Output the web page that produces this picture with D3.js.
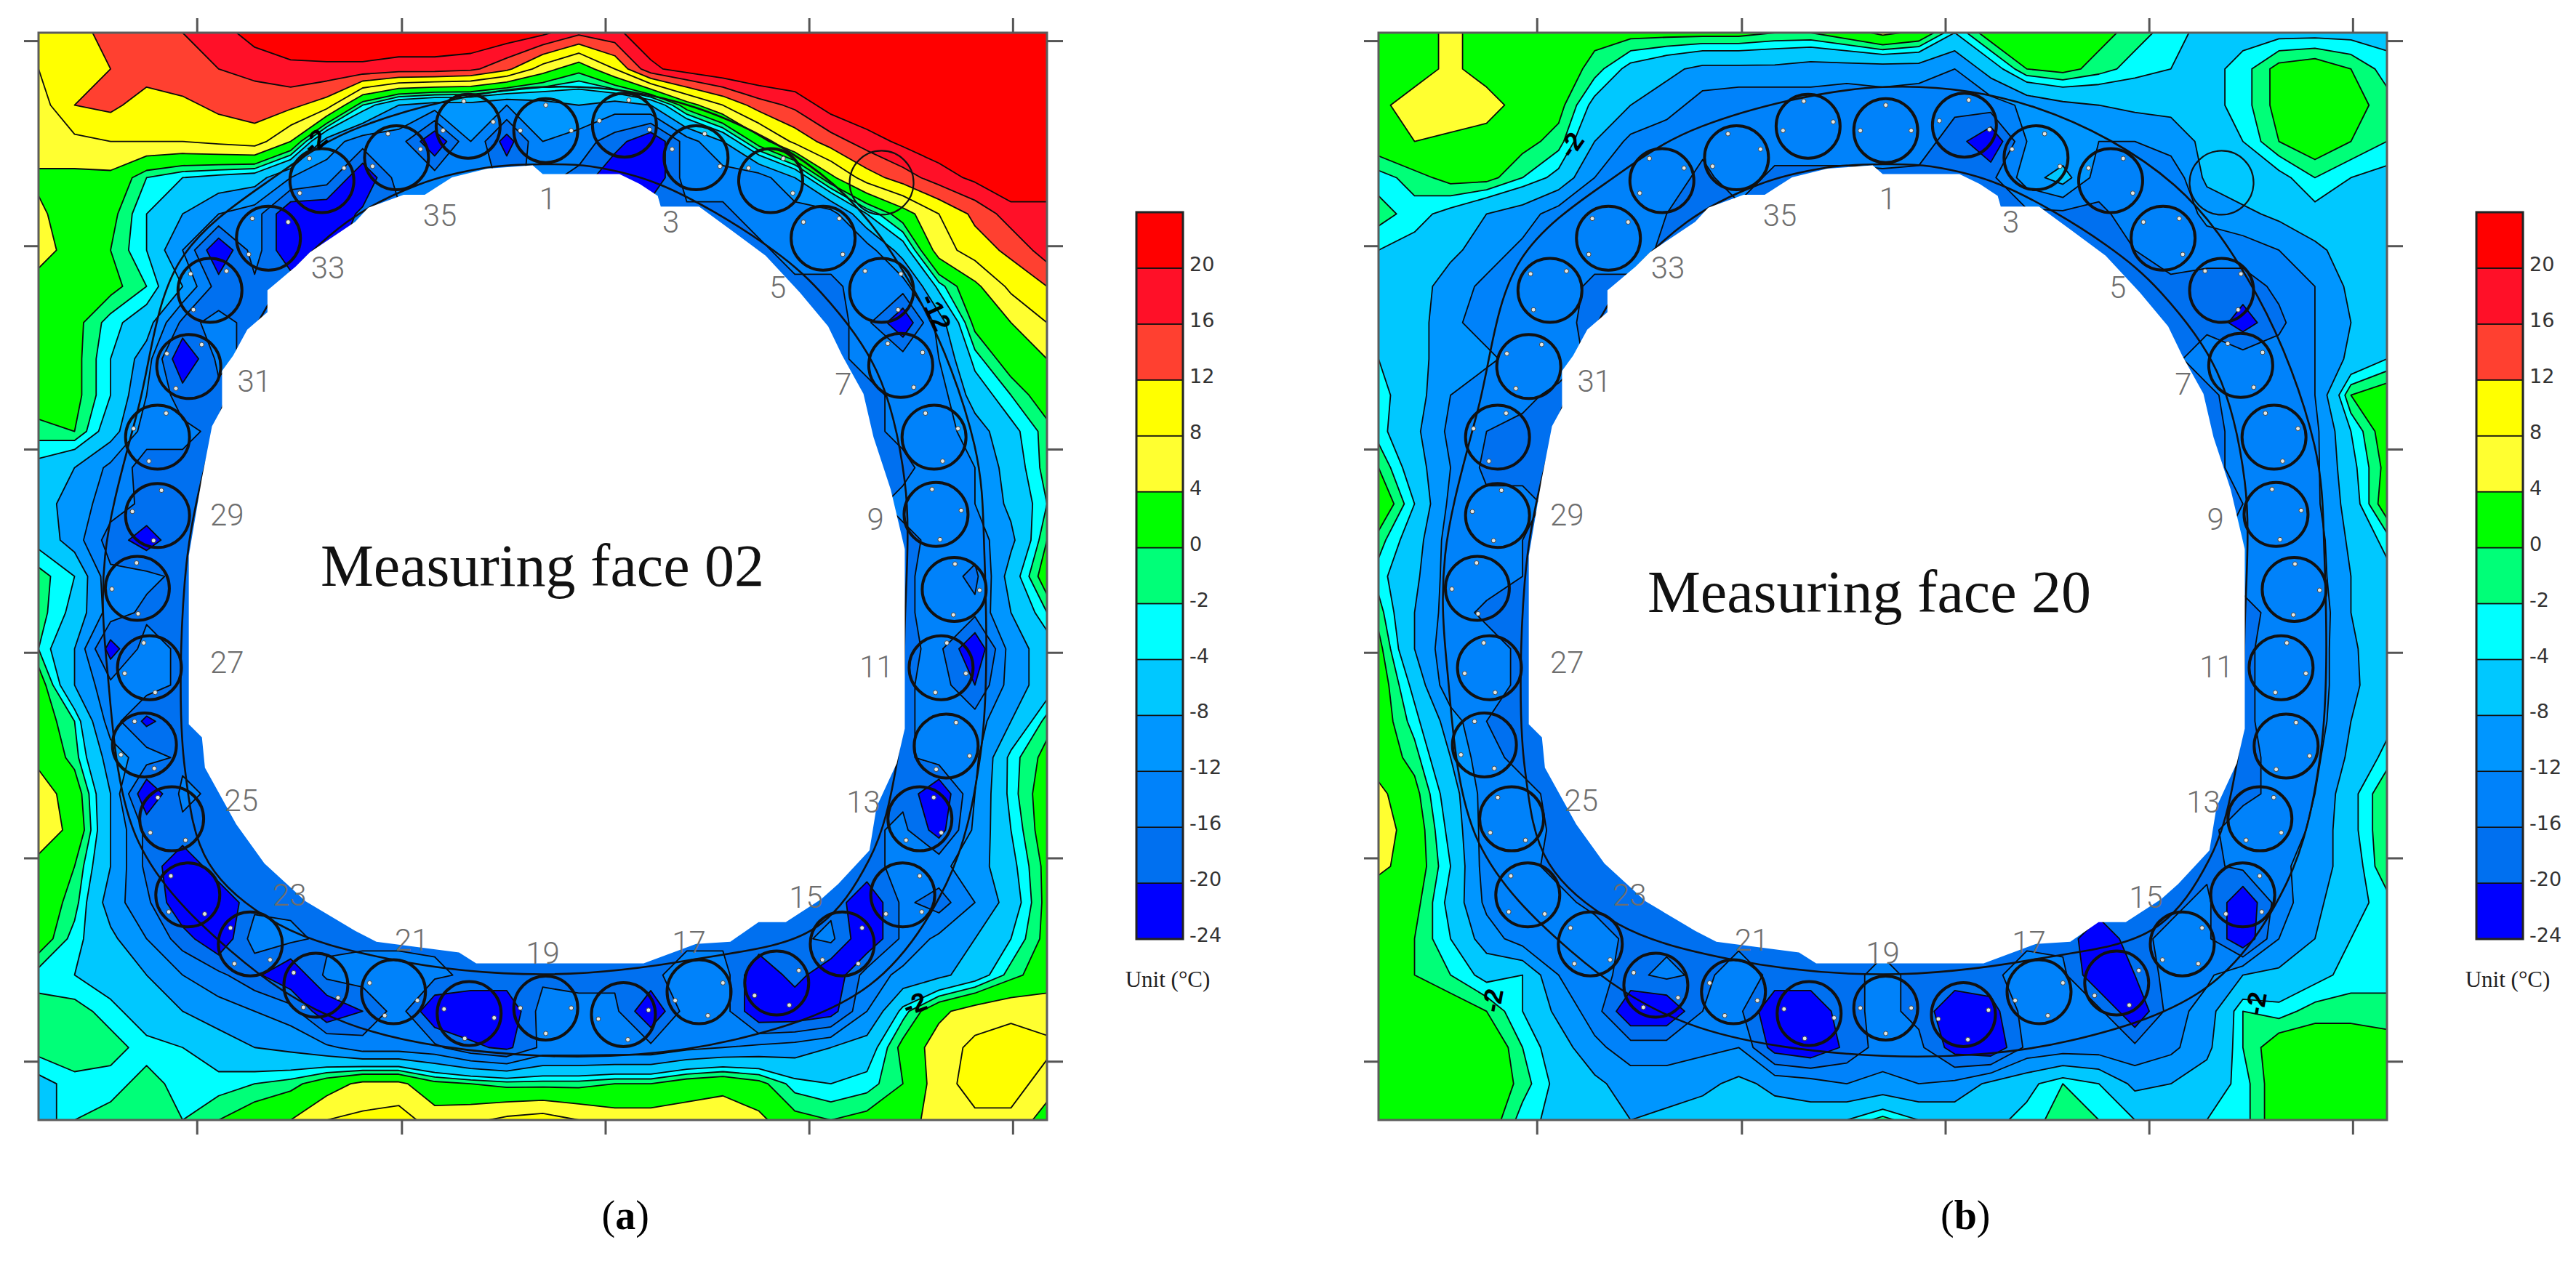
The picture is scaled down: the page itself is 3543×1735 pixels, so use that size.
<!DOCTYPE html>
<html>
<head>
<meta charset="utf-8">
<script src="https://cdn.jsdelivr.net/npm/d3@7"></script>
<style>
  body { margin: 0; background: #fff; }
</style>
</head>
<body>
<div id="vis"></div>
<script>
// temperature on a 29 x 31 grid (deg C), centre of the tunnel is blanked later
var faceA = [
[10,10,14,15,16,18,22,23,24,24,24,24,24,23,21,17,19,23,25,25,25,25,25,25,25,25,25,25,25],
[8,9,12,14,15,16,17,19,19,19,18,18,17,13,6,1,8,19,22,24,25,25,25,25,25,25,25,25,25],
[6,12,13,10,11,13,14,13,10,-2,-8,-10,-10,-12,-10,-8,-10,-8,2,8,14,17,22,24,25,25,25,25,25],
[7,7,8,8,8,9,10,4,-10,-14,-14,-24,-12,-22,-12,-14,-18,-24,-14,-8,2,9,14,18,21,23,24,25,25],
[3,3,3,-2,-4,-5,-6,-12,-14,-24,-14,-14,-14,-17,-15,-17,-24,-24,-14,-14,-14,-8,3,10,14,18,21,24,24],
[5,1,1,-4,-8,-12,-14,-24,-24,-19,-17,-17,-17,-17,-17,-17,-17,-17,-17,-17,-14,-14,-14,-4,2,8,13,18,18],
[6,2,0,-4,-12,-24,-14,-24,-22,-17,-17,-17,-17,-17,-17,-17,-17,-17,-17,-17,-17,-14,-14,-14,-6,6,10,13,18],
[2,2,1,-2,-8,-18,-17,-17,-17,-17,-17,-17,-17,-17,-17,-17,-17,-17,-17,-17,-17,-17,-17,-14,-14,-3,3,9,12],
[2,1,-3,-6,-17,-15,-17,-17,-17,-17,-17,-17,-17,-17,-17,-17,-17,-17,-17,-17,-17,-17,-17,-15,-24,-10,1,4,8],
[2,1,-4,-10,-24,-15,-17,-17,-17,-17,-17,-17,-17,-17,-17,-17,-17,-17,-17,-17,-17,-17,-17,-15,-14,-12,-3,2,4],
[2,1,-4,-12,-18,-17,-17,-17,-17,-17,-17,-17,-17,-17,-17,-17,-17,-17,-17,-17,-17,-17,-17,-17,-15,-14,-6,-2,2],
[-1,0,-6,-14,-15,-17,-17,-17,-17,-17,-17,-17,-17,-17,-17,-17,-17,-17,-17,-17,-17,-17,-17,-17,-15,-14,-10,-5,-1],
[-5,-8,-13,-18,-17,-17,-17,-17,-17,-17,-17,-17,-17,-17,-17,-17,-17,-17,-17,-17,-17,-17,-17,-17,-17,-14,-12,-6,-1],
[-6,-10,-14,-17,-17,-17,-17,-17,-17,-17,-17,-17,-17,-17,-17,-17,-17,-17,-17,-17,-17,-17,-17,-17,-15,-15,-12,-7,-2],
[-5,-10,-18,-22,-17,-17,-17,-17,-17,-17,-17,-17,-17,-17,-17,-17,-17,-17,-17,-17,-17,-17,-17,-17,-17,-15,-14,-9,0],
[-1,-4,-15,-15,-17,-17,-17,-17,-17,-17,-17,-17,-17,-17,-17,-17,-17,-17,-17,-17,-17,-17,-17,-17,-17,-14,-17,-6,2],
[-1,-5,-14,-17,-17,-17,-17,-17,-17,-17,-17,-17,-17,-17,-17,-17,-17,-17,-17,-17,-17,-17,-17,-17,-17,-14,-15,-8,-2],
[-2,-8,-22,-14,-17,-17,-17,-17,-17,-17,-17,-17,-17,-17,-17,-17,-17,-17,-17,-17,-17,-17,-17,-17,-17,-15,-24,-10,-6],
[2,-8,-15,-14,-17,-17,-17,-17,-17,-17,-17,-17,-17,-17,-17,-17,-17,-17,-17,-17,-17,-17,-17,-17,-17,-14,-20,-10,-6],
[2,-2,-14,-21,-17,-17,-17,-17,-17,-17,-17,-17,-17,-17,-17,-17,-17,-17,-17,-17,-17,-17,-17,-17,-17,-14,-14,-8,-1],
[3,-1,-10,-14,-17,-17,-17,-17,-17,-17,-17,-17,-17,-17,-17,-17,-17,-17,-17,-17,-17,-17,-17,-17,-17,-14,-13,-3,1],
[6,2,-8,-24,-15,-17,-17,-17,-17,-17,-17,-17,-17,-17,-17,-17,-17,-17,-17,-17,-17,-17,-17,-17,-17,-24,-12,-3,2],
[6,3,-8,-17,-17,-17,-17,-17,-17,-17,-17,-17,-17,-17,-17,-17,-17,-17,-17,-17,-17,-17,-17,-17,-15,-22,-11,-4,2],
[3,0,-8,-17,-24,-17,-17,-17,-17,-17,-17,-17,-17,-17,-17,-17,-17,-17,-17,-17,-17,-17,-17,-17,-15,-13,-10,-5,1],
[2,-1,-10,-15,-24,-24,-17,-17,-17,-17,-17,-17,-17,-17,-17,-17,-17,-17,-17,-17,-17,-17,-17,-24,-15,-18,-12,-6,1],
[2,-3,-7,-12,-18,-24,-14,-15,-17,-17,-17,-17,-17,-17,-17,-17,-17,-17,-17,-17,-17,-17,-15,-24,-15,-11,-8,-4,1],
[-3,-4,-6,-8,-12,-15,-19,-24,-15,-14,-14,-15,-17,-17,-17,-17,-17,-17,-14,-14,-24,-18,-24,-14,-11,-9,-6,-1,2],
[-1,-1,-3,-6,-8,-10,-12,-14,-24,-20,-14,-24,-24,-24,-14,-15,-15,-24,-14,-14,-24,-24,-22,-12,-3,3,6,7,6],
[-1,0,-1,-3,-4,-6,-8,-9,-11,-14,-14,-15,-19,-21,-15,-15,-15,-15,-13,-12,-11,-10,-8,-6,1,6,9,10,9],
[-5,-3,-3,-1,-3,-3,-2,-1,2,5,5,1,0,-1,-1,-1,0,0,2,3,1,-3,-4,-3,0,6,10,10,6],
[-6,-2,-1,-1,-2,0,2,4,8,9,10,6,7,9,10,8,6,6,6,6,5,1,0,1,2,6,7,7,2]
];

var faceB = [
[2,2,5,2,2,2,1,1,1,1,1,0,0,2,5,3,-4,2,2,2,1,-1,-3,-5,-5,-5,-5,-5,-5],
[2,2,5,2,2,2,-1,-5,-7,-9,-9,-9,-10,-10,-10,-10,-12,-6,0,1,-1,-3,-4,-5,-3,1,2,0,-3],
[3,6,7,6,2,1,-5,-8,-10,-14,-15,-15,-14,-15,-14,-15,-15,-14,-11,-9,-8,-7,-7,-5,-3,1,3,1,-1],
[2,4,3,2,1,-1,-8,-13,-15,-15,-15,-14,-14,-14,-13,-14,-18,-24,-12,-12,-12,-12,-10,-7,-4,0,2,0,-2],
[-3,-1,1,1,-2,-5,-12,-14,-14,-17,-14,-17,-17,-17,-17,-17,-17,-17,-10,-6,-14,-14,-15,-7,-5,-5,-2,-4,-5],
[-1,-3,-5,-8,-10,-14,-14,-15,-16,-17,-17,-17,-17,-17,-17,-17,-17,-17,-17,-17,-17,-14,-15,-11,-9,-7,-5,-6,-5],
[-4,-5,-7,-10,-13,-15,-14,-14,-17,-17,-17,-17,-17,-17,-17,-17,-17,-17,-17,-17,-17,-16,-14,-14,-14,-12,-9,-6,-5],
[-4,-6,-10,-13,-14,-14,-17,-17,-17,-17,-17,-17,-17,-17,-17,-17,-17,-17,-17,-17,-17,-17,-17,-18,-18,-15,-12,-7,-5],
[-4,-6,-11,-14,-15,-15,-17,-17,-17,-17,-17,-17,-17,-17,-17,-17,-17,-17,-17,-17,-17,-17,-17,-17,-22,-17,-12,-8,-5],
[-4,-6,-11,-11,-14,-14,-17,-17,-17,-17,-17,-17,-17,-17,-17,-17,-17,-17,-17,-17,-17,-17,-17,-14,-14,-14,-12,-7,-4],
[-3,-6,-12,-15,-15,-17,-17,-17,-17,-17,-17,-17,-17,-17,-17,-17,-17,-17,-17,-17,-17,-17,-17,-17,-14,-15,-12,0,2],
[-3,-7,-13,-16,-17,-17,-17,-17,-17,-17,-17,-17,-17,-17,-17,-17,-17,-17,-17,-17,-17,-17,-17,-17,-15,-15,-13,-4,2],
[0,-6,-12,-17,-17,-17,-17,-17,-17,-17,-17,-17,-17,-17,-17,-17,-17,-17,-17,-17,-17,-17,-17,-17,-15,-16,-13,-5,1],
[3,-4,-13,-15,-15,-17,-17,-17,-17,-17,-17,-17,-17,-17,-17,-17,-17,-17,-17,-17,-17,-17,-17,-17,-16,-15,-13,-6,2],
[-1,-6,-14,-15,-16,-17,-17,-17,-17,-17,-17,-17,-17,-17,-17,-17,-17,-17,-17,-17,-17,-17,-17,-17,-15,-15,-14,-7,-3],
[-3,-7,-14,-14,-16,-17,-17,-17,-17,-17,-17,-17,-17,-17,-17,-17,-17,-17,-17,-17,-17,-17,-17,-17,-15,-15,-14,-8,-5],
[-1,-8,-14,-17,-17,-17,-17,-17,-17,-17,-17,-17,-17,-17,-17,-17,-17,-17,-17,-17,-17,-17,-17,-17,-17,-15,-15,-8,-5],
[1,-8,-15,-14,-17,-17,-17,-17,-17,-17,-17,-17,-17,-17,-17,-17,-17,-17,-17,-17,-17,-17,-17,-17,-17,-14,-14,-9,-4],
[2,-5,-15,-14,-17,-17,-17,-17,-17,-17,-17,-17,-17,-17,-17,-17,-17,-17,-17,-17,-17,-17,-17,-17,-17,-14,-14,-9,-5],
[2,-3,-10,-16,-17,-17,-17,-17,-17,-17,-17,-17,-17,-17,-17,-17,-17,-17,-17,-17,-17,-17,-17,-17,-17,-14,-14,-8,-5],
[2,-1,-8,-15,-17,-17,-17,-17,-17,-17,-17,-17,-17,-17,-17,-17,-17,-17,-17,-17,-17,-17,-17,-17,-17,-15,-13,-7,-3],
[5,1,-6,-14,-15,-17,-17,-17,-17,-17,-17,-17,-17,-17,-17,-17,-17,-17,-17,-17,-17,-17,-17,-17,-17,-15,-12,-5,0],
[6,2,-5,-14,-14,-17,-17,-17,-17,-17,-17,-17,-17,-17,-17,-17,-17,-17,-17,-17,-17,-17,-17,-17,-14,-15,-11,-5,0],
[5,2,-4,-14,-15,-17,-17,-17,-17,-17,-17,-17,-17,-17,-17,-17,-17,-17,-17,-17,-17,-17,-17,-17,-15,-13,-10,-6,0],
[1,1,-5,-13,-14,-15,-17,-17,-17,-17,-17,-17,-17,-17,-17,-17,-17,-17,-17,-17,-17,-17,-17,-15,-24,-14,-9,-5,-3],
[1,0,-4,-10,-14,-16,-14,-17,-17,-17,-17,-17,-17,-17,-17,-17,-17,-17,-17,-17,-24,-17,-15,-15,-24,-12,-8,-4,-3],
[1,0,-2,-5,-4,-12,-15,-17,-15,-17,-14,-17,-17,-17,-15,-17,-17,-17,-14,-15,-24,-20,-14,-13,-8,-7,-5,-3,-3],
[3,1,2,0,-4,-9,-14,-24,-24,-16,-15,-24,-24,-17,-15,-17,-24,-22,-14,-15,-15,-24,-14,-10,-2,-3,-1,-1,-1],
[3,3,3,3,-2,-6,-11,-14,-14,-13,-12,-22,-24,-19,-14,-15,-22,-24,-15,-14,-14,-15,-13,-9,-2,2,2,2,1],
[2,3,3,3,-1,-5,-7,-10,-10,-9,-7,-9,-10,-12,-11,-12,-11,-7,-5,-2,-4,-9,-8,-6,-3,2,2,1,1],
[0,1,3,2,-3,-5,-6,-8,-7,-6,-6,-6,-6,-4,-1,-4,-5,-5,-3,-1,-2,-4,-4,-4,-3,2,1,1,3]
];

// colour bar, bottom to top
var levels = [-24,-20,-16,-12,-8,-4,-2,0,4,8,12,16,20];
var bandColors = ["#0000ff","#0070f0","#0082fa","#0096ff","#00c8ff","#00ffff","#00ff78","#00ff00","#ffff30","#ffff00","#ff4030","#ff1028","#ff0000"];

// everything below is in percent of the plot box
var xTicks = [15.7,36,56.2,76.4,96.6];
var yTicks = [0.74,19.6,38.3,57,75.9,94.6];

var holeX = [44.5,49,50,57.6,59.6,61.4,61.7,65.5,68.6,72.1,75.5,78.3,79.7,81.8,82.8,84.5,85.9,85.9,85.1,83.1,82.4,79.3,77.6,74.1,71.4,68.6,65.2,60,43.4,41.7,33.5,31.4,26.5,22.4,19.6,16.5,16.2,14.9,14.9,16.2,17.2,18.2,18.2,19.3,20.7,22.7,22.7,25.5,26.9,31.4,32.7,36.2,38.3,41];
var holeY = [12.5,12.2,13,13,13.9,15,16,16,18.1,20.5,23.9,27,29.7,33.2,37.2,42,47.5,64,67.2,71.2,75.2,78.3,79.7,81.8,81.8,83.6,83.8,85.6,85.6,84.6,83.6,82.6,79.9,76.4,72.8,67.6,64.8,63.6,48.1,41,36.2,34.5,31.1,29.7,27.3,25.7,23.7,21.5,20.2,17.4,16.1,14.9,14.9,13.3];

var innerX = [44.5,50,54.8,61.7,72.1,77.6,83.1,85.9,85.9,85.1,82.4,76.9,65.2,50,34.8,23.8,16.9,14.5,14.5,16.2,19.6,23.8,30.6,37.6];
var innerY = [12.4,12.1,12.3,14,19.5,23.9,31.1,41.3,54.5,67.2,76,82.4,85.2,86.6,85.2,82,76.4,67.6,50.5,41,31.1,23.6,17.4,14];
var outerX = [50,65.2,78.9,87.2,92.8,93.8,93.4,90,82.4,68.6,50,30.6,19,9.9,6.8,6.6,9.9,14.1,23.8,32.1];
var outerY = [5,6.9,14,24.3,37.9,48.1,66.4,78.3,87.6,92.7,94.1,91.1,84.4,74.4,58.4,48.1,34.5,20.9,13,8.6];

// the 36 pipes clockwise from no.1, plus the stray one at the end
var pipeX = [50.3,58.1,65.2,72.6,77.8,83.6,85.5,88.8,89,90.8,89.5,90,87.4,85.7,79.7,73.2,65.5,58,50.3,42.7,35.2,27.5,21,14.8,13.2,10.5,11,9.8,11.8,11.8,14.9,17,22.8,28.1,35.5,42.6,83.6];
var pipeY = [9,8.5,11.5,13.6,18.9,23.7,30.6,37.2,44.3,51.2,58.4,65.6,72.3,79.3,83.8,87.4,88.2,90.3,89.7,90.2,88.2,87.6,83.8,79.3,72.3,65.5,58.4,51.1,44.4,37.2,30.7,23.7,18.9,13.6,11.5,8.6,13.8];

var pipeNames = ["1","3","5","7","9","11","13","15","17","19","21","23","25","27","29","31","33","35"];
var nameX = [50.5,62.7,73.3,79.8,83,83.1,81.8,76.1,64.5,50,37,24.9,20.1,18.7,18.7,21.4,28.7,39.8];
var nameY = [15.2,17.4,23.4,32.3,44.7,58.3,70.7,79.5,83.6,84.6,83.4,79.3,70.6,57.9,44.3,32,21.6,16.8];

var isoTextA = ["-2","-12","-2"];
var isoXA = [27.4,89,86.9];
var isoYA = [10,25.7,89.3];
var isoRotA = [-40,65,-20];
var isoTextB = ["-2","-2","-2"];
var isoXB = [19.1,11.3,87];
var isoYB = [10.3,89,89.3];
var isoRotB = [-55,-80,-80];

var plotW = 1387, plotH = 1496, plotTop = 45;
var nx = faceA[0].length, ny = faceA.length;

var svg = d3.select("#vis").append("svg")
	.attr("width", 3543)
	.attr("height", 1735)
	.style("display", "block");

function drawPanel(id, left, barLeft, grid, title, titleX, titleY, letter, isoText, isoX, isoY, isoRot) {
	var x = d3.scaleLinear().domain([0, 100]).range([left, left + plotW]);
	var y = d3.scaleLinear().domain([0, 100]).range([plotTop, plotTop + plotH]);
	// d3.contours puts grid value i at i + .5
	var gx = d3.scaleLinear().domain([0.5, nx - 0.5]).range([left, left + plotW]);
	var gy = d3.scaleLinear().domain([0.5, ny - 0.5]).range([plotTop, plotTop + plotH]);

	var g = svg.append("g").attr("class", "panel_" + id);

	g.append("clipPath").attr("id", "clip_" + id)
		.append("rect")
		.attr("x", left).attr("y", plotTop).attr("width", plotW).attr("height", plotH);

	var contours = d3.contours()
		.size([nx, ny])
		.thresholds(levels)(grid.flat());
	var path = d3.geoPath(d3.geoTransform({
		point: function(px, py) { this.stream.point(gx(px), gy(py)); }
	}));

	var field = g.append("g").attr("clip-path", "url(#clip_" + id + ")");
	field.append("rect")
		.attr("x", left).attr("y", plotTop).attr("width", plotW).attr("height", plotH)
		.attr("fill", bandColors[0]);
	field.selectAll("path.band").data(contours).enter().append("path")
		.attr("class", "band")
		.attr("d", path)
		.attr("fill", function(d, i) { return bandColors[i]; })
		.attr("stroke", "#0a0a0a")
		.attr("stroke-width", 1.8)
		.attr("stroke-linejoin", "round");

	var ring = d3.line().curve(d3.curveCatmullRomClosed);
	field.append("path")
		.attr("d", ring(d3.range(innerX.length).map(function(i) { return [x(innerX[i]), y(innerY[i])]; })))
		.attr("fill", "none").attr("stroke", "#111").attr("stroke-width", 2.6);
	field.append("path")
		.attr("d", ring(d3.range(outerX.length).map(function(i) { return [x(outerX[i]), y(outerY[i])]; })))
		.attr("fill", "none").attr("stroke", "#111").attr("stroke-width", 2.6);

	// blanked tunnel opening, goes over the lining line
	var hole = d3.range(holeX.length).map(function(i) { return [x(holeX[i]), y(holeY[i])]; });
	field.append("path")
		.attr("d", d3.line()(hole) + "Z")
		.attr("fill", "#fff");

	var pipes = g.append("g");
	pipes.selectAll("circle.pipe").data(pipeX).enter().append("circle")
		.attr("class", "pipe")
		.attr("cx", function(d) { return x(d); })
		.attr("cy", function(d, i) { return y(pipeY[i]); })
		.attr("r", 44)
		.attr("fill", "none")
		.attr("stroke", "#111")
		.attr("stroke-width", function(d, i) { return i == 36 ? 2.2 : 4; });

	// three gauge points in every pipe: outward side and the two flanks
	var gauges = [];
	pipeX.forEach(function(d, i) {
		if (i == 36) return;
		var a = Math.atan2(pipeY[i] * plotH / 100 - plotH * 0.5, (d - 50.3) * plotW / 100);
		[0, Math.PI / 2, -Math.PI / 2].forEach(function(off) {
			gauges.push([x(d) + 35 * Math.cos(a + off), y(pipeY[i]) + 35 * Math.sin(a + off)]);
		});
	});
	pipes.selectAll("circle.gauge").data(gauges).enter().append("circle")
		.attr("class", "gauge")
		.attr("cx", function(d) { return d[0]; })
		.attr("cy", function(d) { return d[1]; })
		.attr("r", 3)
		.attr("fill", "#dfe6e6")
		.attr("stroke", "#444")
		.attr("stroke-width", 1);

	g.selectAll("text.pipe_name").data(pipeNames).enter().append("text")
		.attr("class", "pipe_name")
		.attr("x", function(d, i) { return x(nameX[i]); })
		.attr("y", function(d, i) { return y(nameY[i]); })
		.attr("dy", "0.36em")
		.attr("text-anchor", "middle")
		.style("font-family", "Roboto")
		.style("font-weight", 300)
		.style("font-size", "42px")
		.style("fill", "#6e6e6e")
		.text(function(d) { return d; });

	g.selectAll("text.iso").data(isoText).enter().append("text")
		.attr("class", "iso")
		.attr("transform", function(d, i) { return "translate(" + x(isoX[i]) + "," + y(isoY[i]) + ") rotate(" + isoRot[i] + ")"; })
		.attr("text-anchor", "middle")
		.attr("dy", "0.35em")
		.style("font-family", "Liberation Sans")
		.style("font-weight", 700)
		.style("font-size", "36px")
		.style("fill", "#000")
		.text(function(d) { return d; });

	// frame and ticks
	g.append("rect")
		.attr("x", left).attr("y", plotTop).attr("width", plotW).attr("height", plotH)
		.attr("fill", "none").attr("stroke", "#5c5c5c").attr("stroke-width", 3);

	var axes = [
		d3.axisTop(x).tickValues(xTicks).tickSize(20).tickFormat(""),
		d3.axisBottom(x).tickValues(xTicks).tickSize(20).tickFormat(""),
		d3.axisLeft(y).tickValues(yTicks).tickSize(20).tickFormat(""),
		d3.axisRight(y).tickValues(yTicks).tickSize(22).tickFormat("")
	];
	var shift = [[0, plotTop], [0, plotTop + plotH], [left, 0], [left + plotW, 0]];
	axes.forEach(function(a, i) {
		var ag = g.append("g")
			.attr("transform", "translate(" + shift[i][0] + "," + shift[i][1] + ")")
			.call(a);
		ag.select(".domain").remove();
		ag.selectAll("line").attr("stroke", "#555").attr("stroke-width", 3);
	});

	g.append("text")
		.attr("x", titleX)
		.attr("y", titleY)
		.attr("text-anchor", "middle")
		.style("font-family", "Liberation Serif")
		.style("font-size", "82px")
		.style("fill", "#111")
		.text(title);

	// colour bar
	var barTop = 292, barBottom = 1292, barW = 64;
	var by = d3.scaleLinear().domain([levels.length - 1, -1]).range([barTop, barBottom]);
	var bar = g.append("g");
	bar.selectAll("rect").data(levels).enter().append("rect")
		.attr("x", barLeft)
		.attr("y", function(d, i) { return by(i); })
		.attr("width", barW)
		.attr("height", function(d, i) { return by(i - 1) - by(i); })
		.attr("fill", function(d, i) { return bandColors[i]; })
		.attr("stroke", "#111")
		.attr("stroke-width", 1.6);
	bar.append("rect")
		.attr("x", barLeft).attr("y", barTop).attr("width", barW).attr("height", barBottom - barTop)
		.attr("fill", "none").attr("stroke", "#222").attr("stroke-width", 3);

	var barAxis = d3.axisRight(by)
		.tickValues(d3.range(levels.length))
		.tickSize(0)
		.tickPadding(0)
		.tickFormat(function(i) { return levels[i]; });
	// a tick sits on the lower edge of its band
	var barLabels = g.append("g")
		.attr("transform", "translate(" + (barLeft + barW + 9) + "," + (by(-1) - by(0) - 5) + ")")
		.call(barAxis);
	barLabels.select(".domain").remove();
	barLabels.selectAll("text")
		.style("font-family", "DejaVu Sans")
		.style("font-size", "27px")
		.style("fill", "#333");

	g.append("text")
		.attr("x", barLeft + 43)
		.attr("y", 1358)
		.attr("text-anchor", "middle")
		.style("font-family", "Liberation Serif")
		.style("font-size", "31px")
		.style("fill", "#222")
		.text("Unit (\u00b0C)");

	var cap = g.append("text")
		.attr("x", x(58.2))
		.attr("y", 1691)
		.attr("text-anchor", "middle")
		.style("font-family", "Liberation Serif")
		.style("font-size", "56px")
		.style("fill", "#000");
	cap.append("tspan").text("(");
	cap.append("tspan").style("font-weight", 700).text(letter);
	cap.append("tspan").text(")");
}

drawPanel("a", 53, 1563, faceA, "Measuring face 02", 746, 806, "a", isoTextA, isoXA, isoYA, isoRotA);
drawPanel("b", 1896, 3406, faceB, "Measuring face 20", 2571, 842, "b", isoTextB, isoXB, isoYB, isoRotB);
</script>
</body>
</html>
